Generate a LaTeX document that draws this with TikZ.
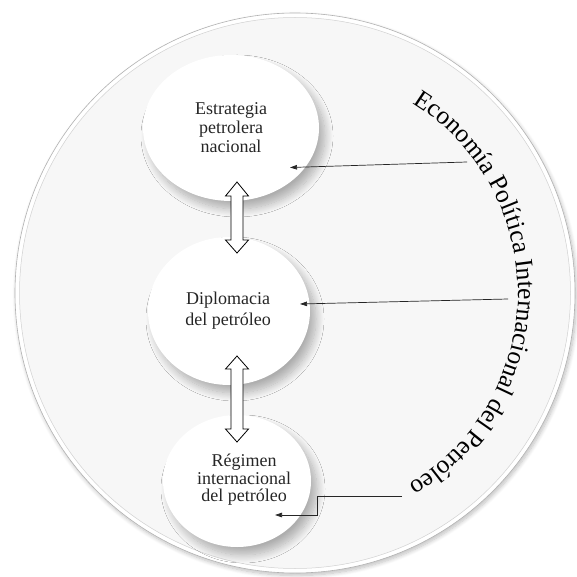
\documentclass[tikz,border=0pt]{standalone}
\usepackage{fontspec}
\setmainfont{Liberation Serif}
\usetikzlibrary{shapes.geometric,arrows.meta,shadows.blur,decorations.text}
\begin{document}
\begin{tikzpicture}[x=1pt,y=1pt,
  ellbox/.style={ellipse, fill=white, draw=none, inner sep=0pt,
    blur shadow={shadow xshift=6pt, shadow yshift=-8pt, shadow blur radius=8pt, shadow blur steps=14, shadow opacity=30}},
  lbl/.style={align=center, text=black!85, inner sep=0pt},
  link/.style={draw=black!85, line width=0.7pt, -{Triangle[length=7pt,width=4.5pt]}},
  dblarrow/.style={fill=white, draw=black, line width=0.8pt, line join=miter}
]
\useasboundingbox (0,0) rectangle (577,576);
% big disc
\path[fill=white, draw=black!30, line width=0.6pt,
  blur shadow={shadow xshift=1.5pt, shadow yshift=-2.5pt, shadow blur radius=4pt, shadow blur steps=8, shadow opacity=25}]
  (295,283) circle[radius=280];
\path[fill=black!3, draw=black!18, line width=0.5pt] (295,283) circle[radius=275.5];
\path[draw=white, line width=1.5pt] (295,283) circle[radius=278];

% ellipses
\node[ellbox, minimum width=176pt, minimum height=146pt] (n1) at (231,448) {};
\node[ellbox, minimum width=162pt, minimum height=148pt] (n2) at (229,265) {};
\node[ellbox, minimum width=148pt, minimum height=132pt] (n3) at (237,95) {};

\node[lbl, font=\fontsize{18}{19}\selectfont] (t1) at (231,448) {Estrategia\\petrolera\\nacional};
\node[lbl, font=\fontsize{18}{21}\selectfont] (t2) at (228,265.5) {Diplomacia\\del petróleo};
\node[lbl, font=\fontsize{18}{17.5}\selectfont] (t3) at (244,96) {Régimen\\internacional\\del petróleo};

% double arrows
\path[dblarrow] (237,394) -- (248.5,380) -- (243,380) -- (243,336) -- (248.5,336) -- (237,323)
  -- (225.5,336) -- (231,336) -- (231,380) -- (225.5,380) -- cycle;
\path[dblarrow] (237,220) -- (248.5,207) -- (243,207) -- (243,147) -- (248.5,147) -- (237,134)
  -- (225.5,147) -- (231,147) -- (231,207) -- (225.5,207) -- cycle;

% arc text
\path[decorate, decoration={text along path, text align=center,
  text={|\fontsize{25.5}{26}\selectfont|Economía Política Internacional del Petróleo}}]
  (295,283) ++(70:223) arc[start angle=70, end angle=-71, radius=223];

% connectors
\coordinate (s1) at (467,414);
\coordinate (e1) at (290,408.5);
\coordinate (s2) at (508,277);
\coordinate (e2) at (300,272);
\coordinate (s3) at (402,80);
\coordinate (b3) at (317,80);
\coordinate (c3) at (317,61);
\coordinate (e3) at (275,61);
\draw[link] (s1) -- (e1);
\draw[link] (s2) -- (e2);
\draw[link] (s3) -- (b3) -- (c3) -- (e3);
\end{tikzpicture}
\end{document}
